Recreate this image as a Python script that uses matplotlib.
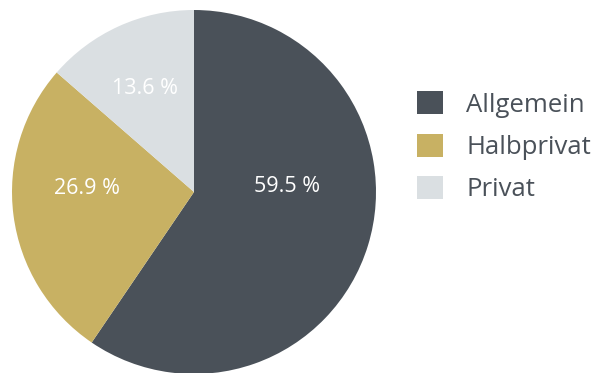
import matplotlib.pyplot as plt
from matplotlib.patches import Patch

labels = ["Allgemein", "Halbprivat", "Privat"]
shares = [59.5, 26.9, 13.6]
colors = ["#4a5159", "#c8b163", "#dadfe2"]
pct_labels = ["59.5 %", "26.9 %", "13.6 %"]

plt.rcParams['font.family'] = ['Open Sans', 'DejaVu Sans']

fig = plt.figure(figsize=(5.95, 3.73), dpi=100)
W, H = 595, 373
cx, cy, r = 194, 373 - 192, 182
ax = fig.add_axes([(cx - r) / W, (cy - r) / H, 2 * r / W, 2 * r / H])
wedges, _ = ax.pie(shares, colors=colors, startangle=90, counterclock=False,
                   radius=1, wedgeprops=dict(linewidth=0))
ax.set_xlim(-1, 1)
ax.set_ylim(-1, 1)
ax.set_aspect('equal')
ax.axis('off')

# label spots inside each wedge (fractions of the radius)
label_pos = [(0.51, 0.03), (-0.59, 0.02), (-0.27, 0.57)]
for txt, (x, y) in zip(pct_labels, label_pos):
    ax.text(x, y, txt, color='white', fontsize=15.5, ha='center', va='center')

handles = [Patch(facecolor=c, edgecolor='none') for c in colors]
fig.legend(handles, labels, loc='upper left', bbox_to_anchor=(394 / W, 1 - 68 / H),
           frameon=False, fontsize=18.5, handlelength=1.02, handleheight=1.02,
           handletextpad=0.9, labelspacing=0.62, labelcolor='#4a5159')

fig.savefig('out.png', dpi=100)
